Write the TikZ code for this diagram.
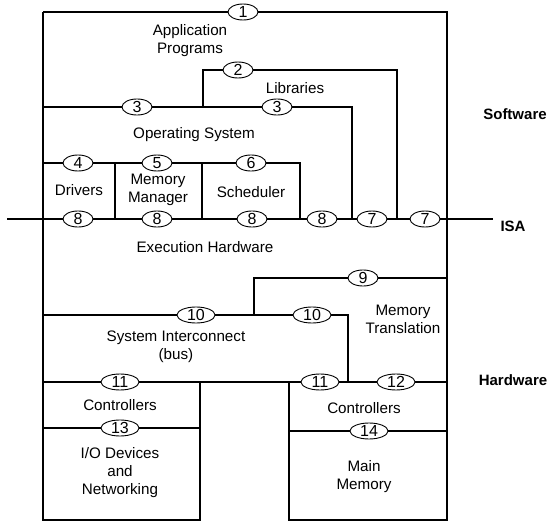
\documentclass[tikz,border=0pt]{standalone}
\usepackage{fontspec}
\setmainfont{Liberation Sans}
\usetikzlibrary{shapes.geometric}
\tikzset{
  num/.style={draw, ellipse, line width=0.9pt, fill=white, inner sep=0pt,
    minimum width=30pt, minimum height=16pt, font=\fontsize{16}{16}\selectfont},
  numw/.style={num, minimum width=38pt},
  lbl/.style={align=center, font=\fontsize{15.2}{18}\selectfont, inner sep=0pt},
  bold/.style={font=\fontsize{15}{17}\selectfont\bfseries, inner sep=0pt},
  wire/.style={line width=1.4pt},
}
\begin{document}
\begin{tikzpicture}[x=1pt,y=-1pt]
\useasboundingbox (0,0) rectangle (552,532);
% corner / junction coordinates
\coordinate (TL) at (43,12);
\coordinate (TR) at (447,12);
\coordinate (BL) at (43,520);
\coordinate (BR) at (447,520);
\coordinate (ioR) at (200,520);
\coordinate (mmL) at (289,520);
% ellipses
\node[num] (e1) at (243,12) {1};
\node[num] (e2) at (238,70) {2};
\node[num] (e3a) at (137,107) {3};
\node[num] (e3b) at (277,107) {3};
\node[num] (e4) at (78,163) {4};
\node[num] (e5) at (157,163) {5};
\node[num] (e6) at (251,163) {6};
\node[num] (e8a) at (78,219) {8};
\node[num] (e8b) at (157,219) {8};
\node[num] (e8c) at (252,219) {8};
\node[num] (e8d) at (322,219) {8};
\node[num] (e7a) at (372,219) {7};
\node[num] (e7b) at (425,219) {7};
\node[num] (e9) at (363,278) {9};
\node[numw] (e10a) at (196,315) {10};
\node[numw] (e10b) at (312,315) {10};
\node[numw] (e11a) at (120,382) {11};
\node[numw] (e11b) at (320,382) {11};
\node[numw] (e12) at (396,382) {12};
\node[numw] (e13) at (120,428) {13};
\node[numw] (e14) at (369,431) {14};
% outer frame
\draw[wire] (TL) -- (e1) -- (TR) -- (BR) -- (mmL) -- (289,382);
\draw[wire] (TL) -- (BL) -- (ioR) -- (200,382);
% software layers
\draw[wire] (203,107) -- (203,70) -- (e2) -- (397,70) -- (397,219);
\draw[wire] (43,107) -- (e3a) -- (e3b) -- (352,107) -- (352,219);
\draw[wire] (43,163) -- (e4) -- (e5) -- (e6) -- (300,163) -- (300,219);
\draw[wire] (115,163) -- (115,219);
\draw[wire] (202,163) -- (202,219);
\draw[wire] (7,219) -- (e8a) -- (e8b) -- (e8c) -- (e8d) -- (e7a) -- (e7b) -- (493,219);
% hardware layers
\draw[wire] (254,315) -- (254,278) -- (e9) -- (447,278);
\draw[wire] (43,315) -- (e10a) -- (e10b) -- (348,315) -- (348,382);
\draw[wire] (43,382) -- (e11a) -- (e11b) -- (e12) -- (447,382);
\draw[wire] (43,428) -- (e13) -- (200,428);
\draw[wire] (289,431) -- (e14) -- (447,431);
% labels
\node[lbl] (tapp) at (190,41) {Application\\Programs};
\node[lbl] (tlib) at (295,88) {Libraries};
\node[lbl] (tos) at (194,135) {Operating System};
\node[lbl] (tdrv) at (79,190) {Drivers};
\node[lbl] (tmm) at (158,190) {Memory\\Manager};
\node[lbl] (tsch) at (251,192) {Scheduler};
\node[lbl] (texe) at (205,247) {Execution Hardware};
\node[lbl] (tmt) at (403,319) {Memory\\Translation};
\node[lbl] (tsi) at (176,347) {System Interconnect\\(bus)};
\node[lbl] (tcl) at (120,405) {Controllers};
\node[lbl] (tio) at (120,473) {I/O Devices\\and\\Networking};
\node[lbl] (tcr) at (364,408) {Controllers};
\node[lbl] (tmain) at (364,477) {Main\\Memory};
\node[bold] (tsw) at (515,114) {Software};
\node[bold] (tisa) at (513,226) {ISA};
\node[bold] (thw) at (513,380) {Hardware};
\end{tikzpicture}
\end{document}
